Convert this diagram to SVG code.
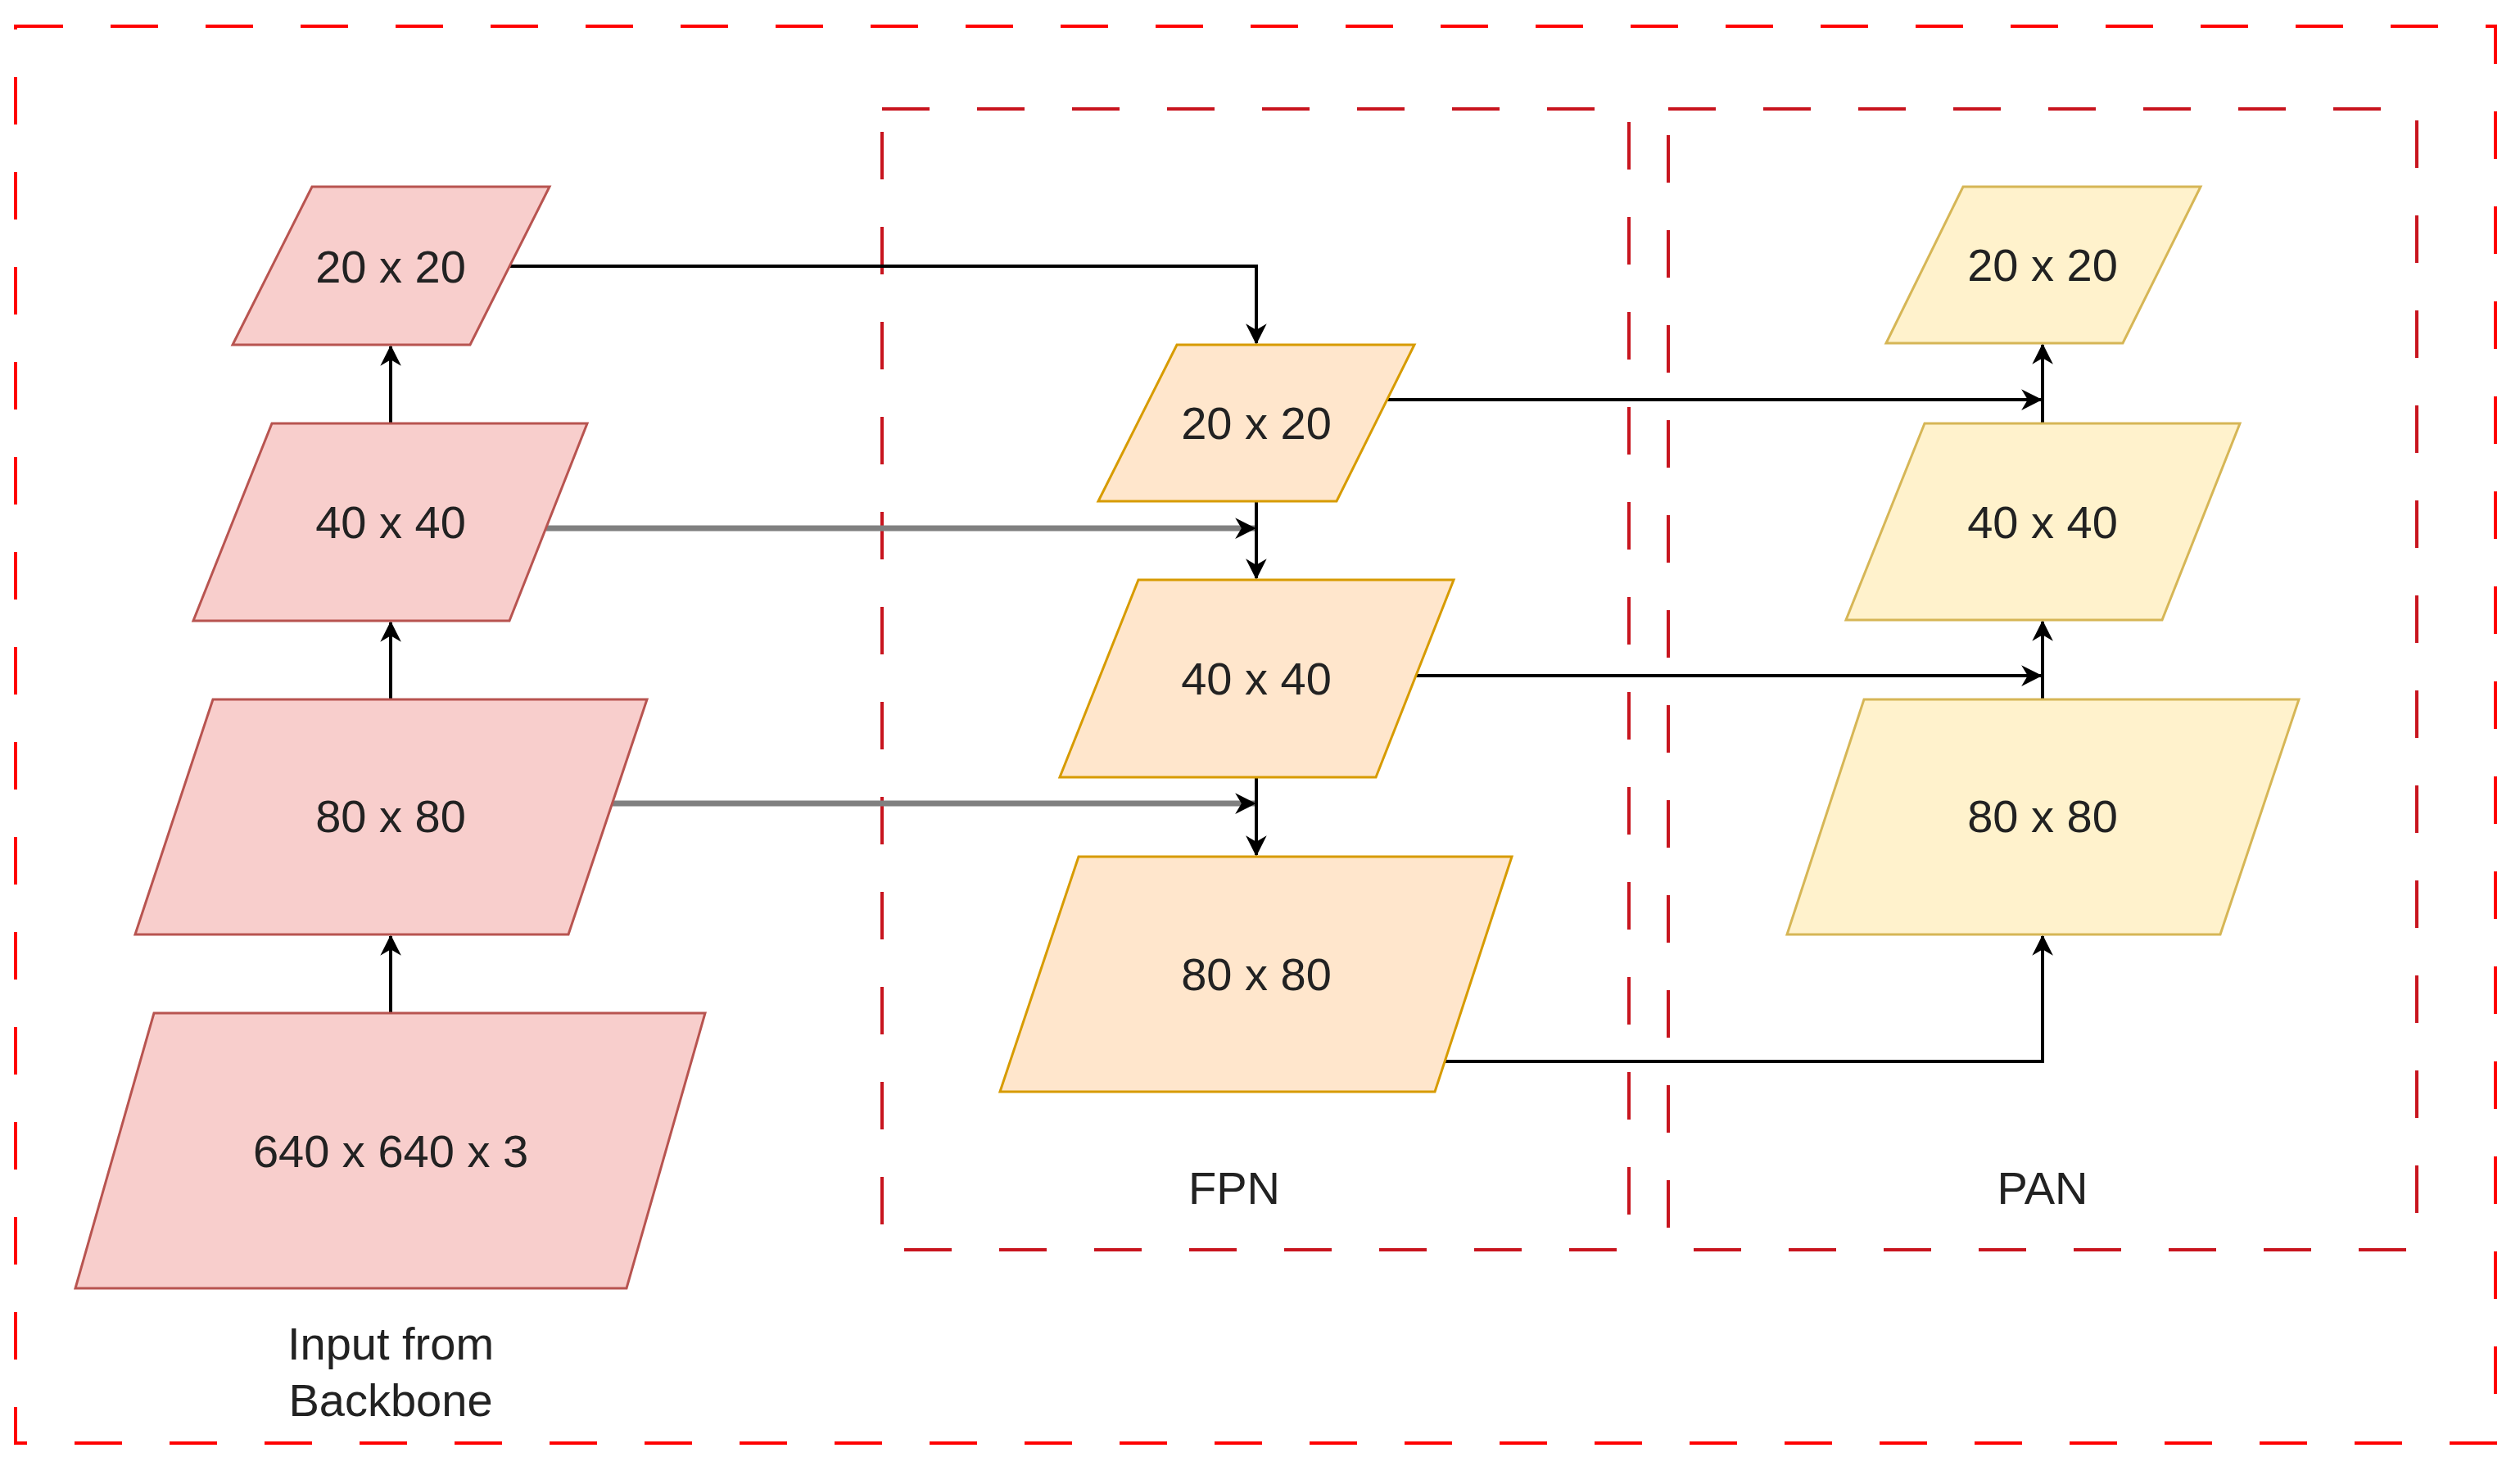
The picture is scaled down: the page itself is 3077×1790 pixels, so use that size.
<svg xmlns="http://www.w3.org/2000/svg" width="3077" height="1790" viewBox="0 0 3077 1790">
<style>
.t{font-family:"Liberation Sans",Arial,sans-serif;font-size:56px;fill:#222;text-anchor:middle;dominant-baseline:central}
.in{fill:#f8cecc;stroke:#b85450;stroke-width:3}
.fp{fill:#ffe6cc;stroke:#d79b00;stroke-width:3}
.pa{fill:#fff2cc;stroke:#d6b656;stroke-width:3}
.bx{fill:none;stroke-width:4;stroke-dasharray:58 58}
.k{fill:none;stroke:#000;stroke-width:4;marker-end:url(#ak)}
.g{fill:none;stroke:#808080;stroke-width:7;marker-end:url(#ak)}
</style>
<defs>
<marker id="ak" viewBox="0 0 10 10" refX="9" refY="5" markerWidth="8" markerHeight="8" markerUnits="userSpaceOnUse" orient="auto" style="overflow:visible">
<path d="M0,0 L10,5 L0,10 L3,5 Z" fill="#000" transform="scale(3.2) translate(-6.5,-3.4)"/>
</marker>
</defs>
<rect width="3077" height="1790" fill="#fff"/>
<g id="frames">
<rect class="bx" x="19" y="32" width="3028" height="1730" stroke="#ff0000"/>
<rect class="bx" x="1077" y="133" width="912" height="1393" stroke="#c8141e"/>
<rect class="bx" x="2037" y="133" width="914" height="1393" stroke="#c8141e"/>
<text class="t" x="1507" y="1450">FPN</text>
<text class="t" x="2494" y="1450">PAN</text>
</g>
<g id="connectors">
<path class="k" d="M622,325 H1534 V419"/>
<path class="k" d="M477,517 V423"/>
<path class="k" d="M477,854 V760"/>
<path class="k" d="M477,1237 V1143"/>
<path class="g" d="M667,645 H1532"/>
<path class="g" d="M748,981 H1532"/>
<path class="k" d="M1534,612 V706"/>
<path class="k" d="M1534,949 V1044"/>
<path class="k" d="M1693,488 H2492"/>
<path class="k" d="M1729,825 H2492"/>
<path class="k" d="M1764,1296 H2494 V1143"/>
<path class="k" d="M2494,517 V421"/>
<path class="k" d="M2494,854 V759"/>
</g>
<g id="in20"><polygon class="in" points="381,228 671,228 574,421 284,421"/><text class="t" x="477" y="325">20 x 20</text></g>
<g id="in40"><polygon class="in" points="332,517 717,517 622,758 236,758"/><text class="t" x="477" y="637">40 x 40</text></g>
<g id="in80"><polygon class="in" points="260,854 790,854 694,1141 165,1141"/><text class="t" x="477" y="996">80 x 80</text></g>
<g id="in640"><polygon class="in" points="188,1237 861,1237 765,1573 92,1573"/><text class="t" x="477" y="1405">640 x 640 x 3</text></g>
<g id="inlabel"><text class="t" x="477" y="1640">Input from</text><text class="t" x="477" y="1709">Backbone</text></g>
<g id="fpn20"><polygon class="fp" points="1437,421 1727,421 1632,612 1341,612"/><text class="t" x="1534" y="516">20 x 20</text></g>
<g id="fpn40"><polygon class="fp" points="1390,708 1775,708 1680,949 1294,949"/><text class="t" x="1534" y="828">40 x 40</text></g>
<g id="fpn80"><polygon class="fp" points="1317,1046 1846,1046 1752,1333 1221,1333"/><text class="t" x="1534" y="1189">80 x 80</text></g>
<g id="pan20"><polygon class="pa" points="2397,228 2687,228 2592,419 2303,419"/><text class="t" x="2494" y="323">20 x 20</text></g>
<g id="pan40"><polygon class="pa" points="2350,517 2735,517 2640,757 2254,757"/><text class="t" x="2494" y="637">40 x 40</text></g>
<g id="pan80"><polygon class="pa" points="2276,854 2807,854 2711,1141 2182,1141"/><text class="t" x="2494" y="996">80 x 80</text></g>
</svg>
